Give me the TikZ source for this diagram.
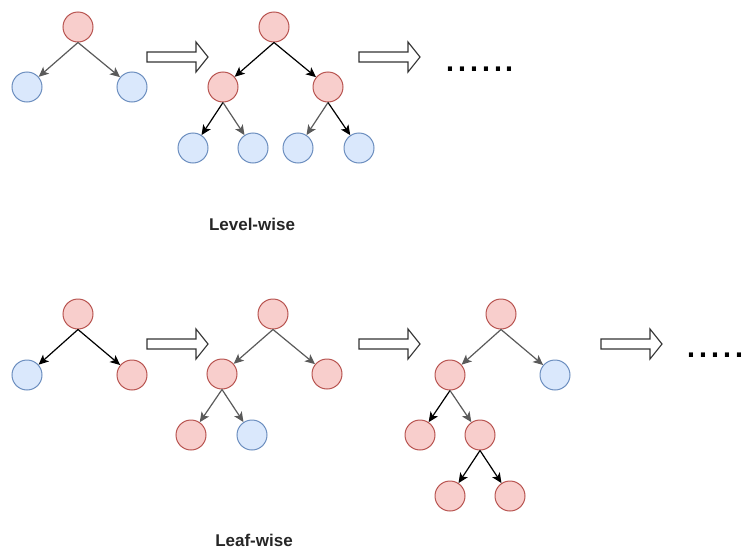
\documentclass[tikz,border=0pt]{standalone}
\usepackage{fontspec}
\setmainfont{Liberation Sans}
\usetikzlibrary{arrows.meta}
\definecolor{redfill}{HTML}{F8CECC}
\definecolor{redline}{HTML}{B85450}
\definecolor{bluefill}{HTML}{DAE8FC}
\definecolor{blueline}{HTML}{6C8EBF}
\definecolor{edgegray}{HTML}{5A5A5A}
\tikzset{
  rnode/.style={circle,draw=redline,fill=redfill,line width=1pt,minimum size=30pt,inner sep=0pt},
  bnode/.style={circle,draw=blueline,fill=bluefill,line width=1pt,minimum size=30pt,inner sep=0pt},
  edgeB/.style={draw=black,line width=1.2pt,-{Stealth[length=10pt,width=9pt,inset=2.5pt]}},
  edgeG/.style={draw=edgegray,line width=1.2pt,-{Stealth[length=10pt,width=9pt,inset=2.5pt]}},
  bigarrow/.style={draw=black!80,fill=white,line width=1.1pt,line join=miter},
  lbl/.style={font=\fontsize{17}{20}\selectfont\bfseries,inner sep=0pt,text=black!85},
  dots/.style={font=\fontsize{43}{43}\selectfont,inner sep=0pt,anchor=base west}
}
\newcommand{\hollowarrow}[2]{% x-left, y-center
  \draw[bigarrow] (#1,#2-5) -- (#1+49,#2-5) -- (#1+49,#2-15) -- (#1+61,#2) -- (#1+49,#2+15) -- (#1+49,#2+5) -- (#1,#2+5) -- cycle;}
\begin{document}
\begin{tikzpicture}[x=1pt,y=-1pt]
\useasboundingbox (0,0) rectangle (745,549);
% ---------- Level-wise ----------
\node[rnode] (a1) at (78,27) {};
\node[bnode] (a2) at (27,87) {};
\node[bnode] (a3) at (132,87) {};
\draw[edgeG] (a1.south) -- (a2);
\draw[edgeG] (a1.south) -- (a3);

\hollowarrow{147}{57}

\node[rnode] (b1) at (274,27) {};
\node[rnode] (b2) at (223,87) {};
\node[rnode] (b3) at (328,87) {};
\node[bnode] (b4) at (193,148) {};
\node[bnode] (b5) at (253,148) {};
\node[bnode] (b6) at (298,148) {};
\node[bnode] (b7) at (359,148) {};
\draw[edgeB] (b1.south) -- (b2);
\draw[edgeB] (b1.south) -- (b3);
\draw[edgeB] (b2.south) -- (b4);
\draw[edgeG] (b2.south) -- (b5);
\draw[edgeG] (b3.south) -- (b6);
\draw[edgeB] (b3.south) -- (b7);

\hollowarrow{359}{57}

\node[dots] (d1) at (444,71) {......};
\node[lbl] (l1) at (252,224) {Level-wise};

% ---------- Leaf-wise ----------
\node[rnode] (c1) at (78,314) {};
\node[bnode] (c2) at (27,375) {};
\node[rnode] (c3) at (132,375) {};
\draw[edgeB] (c1.south) -- (c2);
\draw[edgeB] (c1.south) -- (c3);

\hollowarrow{147}{344}

\node[rnode] (e1) at (273,314) {};
\node[rnode] (e2) at (222,374) {};
\node[rnode] (e3) at (327,374) {};
\node[rnode] (e4) at (191,435) {};
\node[bnode] (e5) at (252,435) {};
\draw[edgeG] (e1.south) -- (e2);
\draw[edgeG] (e1.south) -- (e3);
\draw[edgeG] (e2.south) -- (e4);
\draw[edgeG] (e2.south) -- (e5);

\hollowarrow{359}{344}

\node[rnode] (f1) at (501,314) {};
\node[rnode] (f2) at (450,375) {};
\node[bnode] (f3) at (555,375) {};
\node[rnode] (f4) at (420,435) {};
\node[rnode] (f5) at (480,435) {};
\node[rnode] (f6) at (450,496) {};
\node[rnode] (f7) at (510,496) {};
\draw[edgeG] (f1.south) -- (f2);
\draw[edgeG] (f1.south) -- (f3);
\draw[edgeB] (f2.south) -- (f4);
\draw[edgeG] (f2.south) -- (f5);
\draw[edgeB] (f5.south) -- (f6);
\draw[edgeB] (f5.south) -- (f7);

\hollowarrow{601}{344}

\node[dots] (d2) at (685,357) {.....};
\node[lbl] (l2) at (254,540) {Leaf-wise};
\end{tikzpicture}
\end{document}
